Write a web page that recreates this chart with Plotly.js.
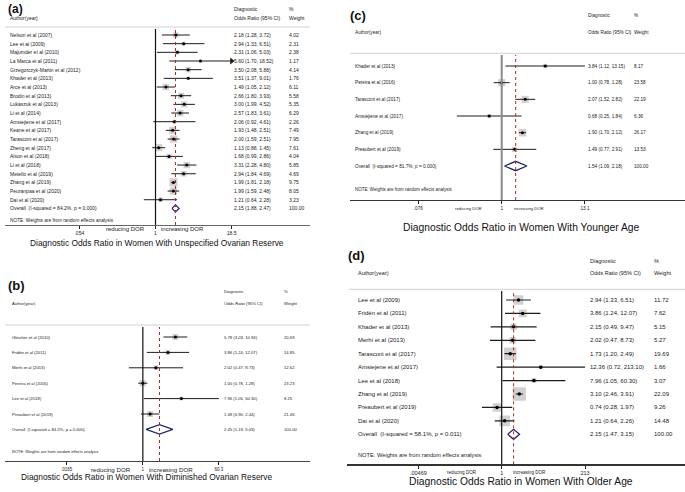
<!DOCTYPE html>
<html>
<head>
<meta charset="utf-8">
<script src="https://cdn.plot.ly/plotly-3.0.1.min.js"></script>
<style>html,body{margin:0;padding:0;background:#fff;}#chart{width:685px;height:492px;}</style>
</head>
<body>
<div id="chart"></div>
<script>
// ---------------- DATA ----------------
// (a) Unspecified ovarian reserve
const aStudies = ["Nelson et al (2007)","Lee et al (2009)","Majumder et al (2010)","La Marca et al (2011)","Grzegorczyk-Martin et al (2012)","Khader et al (2013)","Arce et al (2013)","Brodin et al (2013)","Lukaszuk et al (2013)","Li et al (2014)","Amsiejiene et al (2017)","Keane et al (2017)","Tarasconi et al (2017)","Zheng et al (2017)","Alson et al (2018)","Li et al (2018)","Metello et al (2019)","Zhang et al (2019)","Peuranpaa et al (2020)","Dai et al (2020)"];
const aOR  = [2.18,2.94,2.31,5.60,3.50,3.51,1.49,2.66,3.00,2.57,2.06,1.93,2.00,1.13,1.68,3.31,2.94,1.99,1.99,1.21];
const aLo  = [1.28,1.33,1.06,1.70,2.08,1.37,1.05,1.80,1.99,1.83,0.92,1.48,1.59,0.88,0.99,2.28,1.84,1.81,1.59,0.64];
const aHi  = [3.72,6.51,5.03,18.52,5.88,9.01,2.12,3.93,4.52,3.61,4.61,2.51,2.51,1.45,2.86,4.80,4.69,2.18,2.48,2.28];
const aWeight = [4.02,2.31,2.38,1.17,4.14,1.76,6.11,5.58,5.35,6.29,2.26,7.49,7.95,7.61,4.04,5.85,4.69,9.75,8.05,3.23];
const aOverall = [2.15,1.88,2.47];
const aOverallLabel = "Overall  (I-squared = 84.2%, p = 0.000)";
const aTicks = [0.054,1,18.5];
const aTickLabels = [".054","1","18.5"];
const aArrowStudies = ["La Marca et al (2011)"];
const aTitle = "Diagnostic Odds Ratio in Women With Unspecified Ovarian Reserve";

// (b) Diminished ovarian reserve
const bStudies = ["Gleicher et al (2010)","Fridén et al (2011)","Merhi et al (2013)","Pereira et al (2016)","Lee et al (2018)","Preaubert et al (2019)"];
const bOR  = [5.78,3.86,2.02,1.00,7.96,1.48];
const bLo  = [3.03,1.24,0.47,0.78,1.05,0.90];
const bHi  = [10.94,12.07,8.73,1.28,60.30,2.44];
const bWeight = [20.69,14.85,12.62,23.23,8.25,21.46];
const bOverall = [2.45,1.19,5.03];
const bOverallLabel = "Overall  (I-squared = 84.2%, p = 0.000)";
const bTicks = [0.0165,1,60.3];
const bTickLabels = [".0165","1","60.3"];
const bTitle = "Diagnostic Odds Ratio in Women With Diminished Ovarian Reserve";

// (c) Younger age
const cStudies = ["Khader et al (2013)","Pereira et al (2016)","Tarasconi et al (2017)","Amsiejiene et al (2017)","Zhang et al (2019)","Preaubert et al (2019)"];
const cOR  = [3.84,1.00,2.07,0.68,1.90,1.49];
const cLo  = [1.12,0.78,1.52,0.25,1.70,0.77];
const cHi  = [13.15,1.28,2.82,1.84,2.12,2.91];
const cWeight = [8.17,23.58,22.19,6.36,26.17,13.53];
const cOverall = [1.54,1.09,2.18];
const cOverallLabel = "Overall  (I-squared = 81.7%, p = 0.000)";
const cTicks = [0.076,1,13.1];
const cTickLabels = [".076","1","13.1"];
const cTitle = "Diagnostic Odds Ratio in Women With Younger Age";

// (d) Older age
const dStudies = ["Lee et al (2009)","Fridén et al (2011)","Khader et al (2013)","Merhi et al (2013)","Tarasconi et al (2017)","Amsiejene et al (2017)","Lee et al (2018)","Zhang et al (2019)","Preaubert et al (2019)","Dai et al (2020)"];
const dOR  = [2.94,3.86,2.15,2.02,1.73,12.36,7.96,3.10,0.74,1.21];
const dLo  = [1.33,1.24,0.49,0.47,1.20,0.72,1.05,2.46,0.28,0.64];
const dHi  = [6.51,12.07,9.47,8.73,2.49,213.10,60.30,3.91,1.97,2.26];
const dWeight = [11.72,7.62,5.15,5.27,19.69,1.66,3.07,22.09,9.26,14.48];
const dOverall = [2.15,1.47,3.15];
const dOverallLabel = "Overall  (I-squared = 58.1%, p = 0.011)";
const dTicks = [0.00469,1,213];
const dTickLabels = [".00469","1","213"];
const dTitle = "Diagnostic Odds Ratio in Women With Older Age";

const noteText = "NOTE: Weights are from random effects analysis";
const headerText = {author:"Author(year)", diag:"Diagnostic", or:"Odds Ratio (95% CI)", pct:"%", weight:"Weight"};
const sideText = {left:"reducing DOR", right:"increasing DOR"};

// ---------------- LAYOUT / DRAWING ----------------
const W = 685, H = 492;
const FONT = "Liberation Sans, Arial, Helvetica, sans-serif";
const fx = p => p / W;
const fy = p => 1 - p / H;
const fmt = v => v.toFixed(2);

const panels = [
  {tag:"(a)", studies:aStudies, or:aOR, lo:aLo, hi:aHi, w:aWeight, overall:aOverall, overallLabel:aOverallLabel,
   ticks:aTicks, tickLabels:aTickLabels, arrows:aArrowStudies, title:aTitle,
   N:155.5, P:60.1, L:5, R:310, top:29, bottom:225, y0:35, dy:8.67,
   ruleY:27, ruleL:5, ruleR:310, colName:8, colEst:232, colW:287,
   hdrY1:9, hdrY2:18, authY:18, tagX:6, tagY:8.5, tagSize:12, titleX:157, titleY:243, titleSize:8.4,
   rowFont:5, tickFont:5, sideFont:6, sideY:229, hdrFont:5, gapL:9, gapR:3.5,
   boxK:2.6, dot:3, diaH:3.5, nullColor:"#111", nullW:1.2, ciW:1, axisColor:"#666"},
  {tag:"(b)", studies:bStudies, or:bOR, lo:bLo, hi:bHi, w:bWeight, overall:bOverall, overallLabel:bOverallLabel,
   ticks:bTicks, tickLabels:bTickLabels, arrows:[], title:bTitle,
   N:142.85, P:42.76, L:5, R:310, top:327, bottom:461, y0:337, dy:15.4,
   ruleY:325, ruleL:5, ruleR:310, colName:10, colEst:222, colW:282,
   hdrY1:291, hdrY2:303, authY:303, tagX:6, tagY:285, tagSize:13, titleX:147, titleY:477, titleSize:8.4,
   rowFont:4.2, tickFont:4.5, sideFont:6.2, sideY:469, hdrFont:4.2, gapL:9.5, gapR:4,
   boxK:1.3, dot:3, diaH:4.7, nullColor:"#111", nullW:1.2, ciW:1, axisColor:"#444"},
  {tag:"(c)", studies:cStudies, or:cOR, lo:cLo, hi:cHi, w:cWeight, overall:cOverall, overallLabel:cOverallLabel,
   ticks:cTicks, tickLabels:cTickLabels, arrows:[], title:cTitle,
   N:501.7, P:74.5, L:350, R:685, top:55, bottom:200, y0:66, dy:16.67,
   ruleY:53.3, ruleL:350, ruleR:685, colName:353, colEst:586, colW:632,
   hdrY1:15, hdrY2:32, authY:32, tagX:348, tagY:15, tagSize:13, titleX:521, titleY:227, titleSize:10.3,
   rowFont:4.7, tickFont:4.7, sideFont:4.2, sideY:208.3, hdrFont:4.7, gapL:17.5, gapR:10,
   boxK:1.5, dot:3, diaH:4.7, nullColor:"#8a8a8a", nullW:2, ciW:1, axisColor:"#333"},
  {tag:"(d)", studies:dStudies, or:dOR, lo:dLo, hi:dHi, w:dWeight, overall:dOverall, overallLabel:dOverallLabel,
   ticks:dTicks, tickLabels:dTickLabels, arrows:[], title:dTitle,
   N:501.7, P:35.8, L:347, R:685, top:291, bottom:464.3, y0:300, dy:13.43,
   ruleY:289.3, ruleL:349, ruleR:685, colName:356, colEst:588, colW:652,
   hdrY1:261, hdrY2:273, authY:273, tagX:346, tagY:255, tagSize:13, titleX:521, titleY:481, titleSize:10.3,
   rowFont:6, tickFont:5.5, sideFont:4.6, sideY:472.7, hdrFont:5.5, gapL:23, gapR:9,
   boxK:2.83, dot:3.5, diaH:5, nullColor:"#111", nullW:1.2, ciW:1.2, axisColor:"#333"}
];

const traces = [];
const layout = {
  width: W, height: H, margin:{l:0,r:0,t:0,b:0},
  paper_bgcolor:"#fff", plot_bgcolor:"rgba(0,0,0,0)",
  showlegend:false, font:{family:FONT, color:"#222"},
  annotations:[], shapes:[]
};

panels.forEach((p, k) => {
  const sfx = k === 0 ? "" : String(k + 1);
  const xr = "x" + sfx, yr = "y" + sfx;
  const n = p.studies.length;
  const rowsY = p.studies.map((_, i) => i);
  const ovY = n;
  const tmax = Math.max(...p.ticks), tmin = Math.min(...p.ticks);

  layout["xaxis" + sfx] = {
    type:"log", domain:[fx(p.L), fx(p.R)],
    range:[(p.L - p.N) / p.P, (p.R - p.N) / p.P],
    tickvals:p.ticks, ticktext:p.tickLabels, ticks:"outside", ticklen:3, tickwidth:1, tickcolor:"#222",
    tickfont:{size:p.tickFont, family:FONT, color:"#222"},
    showline:true, linecolor:p.axisColor, linewidth:1.2, showgrid:false, zeroline:false,
    anchor:yr, fixedrange:true
  };
  layout["yaxis" + sfx] = {
    domain:[fy(p.bottom), fy(p.top)],
    range:[(p.bottom - p.y0) / p.dy, (p.top - p.y0) / p.dy],
    visible:false, showgrid:false, zeroline:false, anchor:xr, fixedrange:true
  };

  // CI lines
  const cx = [], cy = [];
  p.studies.forEach((s, i) => {
    cx.push(Math.max(p.lo[i], tmin), Math.min(p.hi[i], tmax), null);
    cy.push(i, i, null);
  });
  // weight boxes (drawn first)
  traces.push({type:"scatter", mode:"markers", xaxis:xr, yaxis:yr, x:p.or, y:rowsY,
    marker:{symbol:"square", color:"#bdbdbd", size:p.w.map(v => p.boxK * Math.sqrt(v)), line:{width:0}},
    hoverinfo:"skip"});
  traces.push({type:"scatter", mode:"lines", xaxis:xr, yaxis:yr, x:cx, y:cy,
    line:{color:"#1c1c1c", width:p.ciW}, hoverinfo:"skip"});
  // point estimates
  traces.push({type:"scatter", mode:"markers", xaxis:xr, yaxis:yr, x:p.or, y:rowsY,
    marker:{symbol:"circle", color:"#000", size:p.dot}, hoverinfo:"skip"});
  // arrows for truncated CIs
  const ax = [], ay = [];
  p.studies.forEach((s, i) => { if (p.arrows.indexOf(s) >= 0) { ax.push(Math.min(p.hi[i], tmax)); ay.push(i); } });
  if (ax.length) traces.push({type:"scatter", mode:"markers", xaxis:xr, yaxis:yr, x:ax, y:ay,
    marker:{symbol:"triangle-right", color:"#1c1c1c", size:6}, hoverinfo:"skip"});
  // overall diamond
  const h = p.diaH / p.dy;
  const [oe, ol, oh] = p.overall;
  traces.push({type:"scatter", mode:"lines", xaxis:xr, yaxis:yr,
    x:[ol, oe, oh, oe, ol], y:[ovY, ovY - h, ovY, ovY + h, ovY],
    line:{color:"#1f2a6b", width:1.3}, hoverinfo:"skip"});

  // null line and overall dashed line
  layout.shapes.push({type:"line", xref:xr, yref:yr + " domain", x0:1, x1:1, y0:0, y1:1,
    line:{color:p.nullColor, width:p.nullW}});
  layout.shapes.push({type:"line", xref:xr, yref:yr + " domain", x0:oe, x1:oe, y0:0, y1:1,
    line:{color:"#b3262a", width:1, dash:"dot"}});
  // header rule
  layout.shapes.push({type:"line", xref:"paper", yref:"paper", x0:fx(p.ruleL), x1:fx(p.ruleR), y0:fy(p.ruleY), y1:fy(p.ruleY),
    line:{color:"#d0d0d0", width:1}});

  const A = layout.annotations;
  const txt = (text, x, y, size, opts) => Object.assign({text:text, x:x, y:y, xref:"paper", yref:"paper",
    showarrow:false, xanchor:"left", yanchor:"middle", font:{size:size, family:FONT, color:"#222"}}, opts || {});
  // rows
  p.studies.forEach((s, i) => {
    A.push(txt(s, fx(p.colName), i, p.rowFont, {yref:yr}));
    A.push(txt(fmt(p.or[i]) + " (" + fmt(p.lo[i]) + ", " + fmt(p.hi[i]) + ")", fx(p.colEst), i, p.rowFont, {yref:yr}));
    A.push(txt(fmt(p.w[i]), fx(p.colW), i, p.rowFont, {yref:yr}));
  });
  const totalW = 100;
  A.push(txt(p.overallLabel, fx(p.colName), ovY, p.rowFont, {yref:yr}));
  A.push(txt(fmt(oe) + " (" + fmt(ol) + ", " + fmt(oh) + ")", fx(p.colEst), ovY, p.rowFont, {yref:yr}));
  A.push(txt(totalW.toFixed(2), fx(p.colW), ovY, p.rowFont, {yref:yr}));
  // note
  const noteY = p.bottom - (p.bottom - (p.y0 + n * p.dy)) * 0.3;
  A.push(txt(noteText, fx(p.colName), fy(noteY), p.rowFont * 0.95));
  // headers
  A.push(txt(headerText.diag, fx(p.colEst), fy(p.hdrY1), p.hdrFont));
  A.push(txt(headerText.pct, fx(p.colW), fy(p.hdrY1), p.hdrFont));
  A.push(txt(headerText.author, fx(p.colName), fy(p.authY), p.hdrFont));
  A.push(txt(headerText.or, fx(p.colEst), fy(p.hdrY2), p.hdrFont));
  A.push(txt(headerText.weight, fx(p.colW), fy(p.hdrY2), p.hdrFont));
  // panel tag
  A.push(txt("<b>" + p.tag + "</b>", fx(p.tagX), fy(p.tagY), p.tagSize, {font:{size:p.tagSize, family:FONT, color:"#111"}}));
  // reducing / increasing
  A.push(txt(sideText.left, 0, fy(p.sideY), p.sideFont, {xref:xr, x:-p.gapL / p.P, xanchor:"right"}));
  A.push(txt(sideText.right, 0, fy(p.sideY), p.sideFont, {xref:xr, x:p.gapR / p.P, xanchor:"left"}));
  // title
  A.push(txt(p.title, fx(p.titleX), fy(p.titleY), p.titleSize, {xanchor:"center", font:{size:p.titleSize, family:FONT, color:"#111"}}));
});

Plotly.newPlot("chart", traces, layout, {staticPlot:true, displayModeBar:false});
</script>
</body>
</html>
